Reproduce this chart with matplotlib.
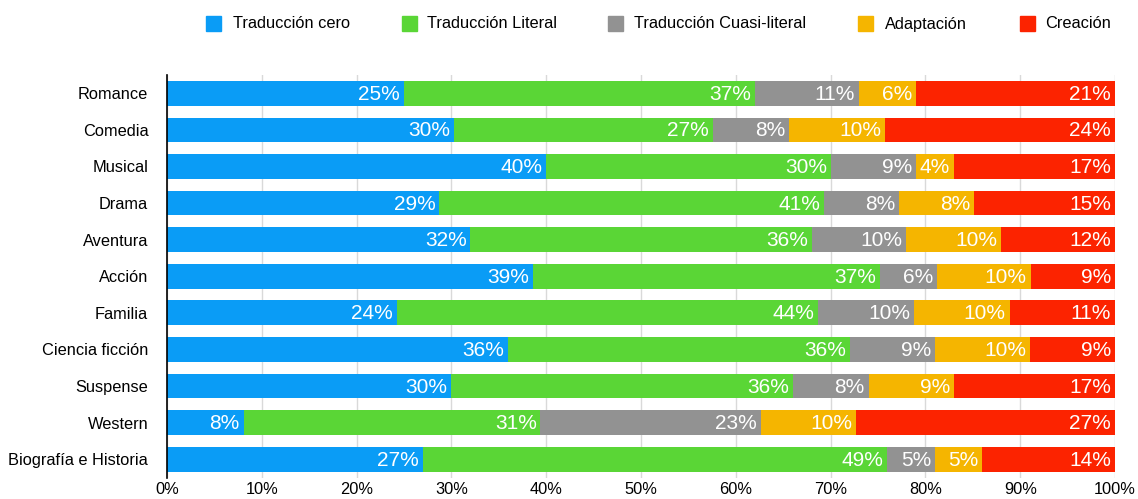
import numpy as np
import matplotlib
matplotlib.use("Agg")
import matplotlib.pyplot as plt
from matplotlib.patches import Rectangle

plt.rcParams['font.family'] = ['Liberation Sans', 'DejaVu Sans']

generos = ['Romance', 'Comedia', 'Musical', 'Drama', 'Aventura', 'Acción',
           'Familia', 'Ciencia ficción', 'Suspense', 'Western',
           'Biografía e Historia']

series = ['Traducción cero', 'Traducción Literal', 'Traducción Cuasi-literal',
          'Adaptación', 'Creación']

trad_cero = [25, 30, 40, 29, 32, 39, 24, 36, 30, 8, 27]
trad_literal = [37, 27, 30, 41, 36, 37, 44, 36, 36, 31, 49]
trad_cuasi = [11, 8, 9, 8, 10, 6, 10, 9, 8, 23, 5]
adaptacion = [6, 10, 4, 8, 10, 10, 10, 10, 9, 10, 5]
creacion = [21, 24, 17, 15, 12, 9, 11, 9, 17, 27, 14]

colores = ['#0A9CF6', '#5AD636', '#929292', '#F5B500', '#FC2300']

datos = np.array([trad_cero, trad_literal, trad_cuasi, adaptacion, creacion], dtype=float)
# 100% stacked: each row is scaled to its own total
anchos = datos / datos.sum(axis=0) * 100

fig = plt.figure(figsize=(11.38, 4.99), dpi=100)
ax = fig.add_axes([167 / 1138, 1 - 477.5 / 499, (1115 - 167) / 1138, 402.5 / 499])

y = np.arange(len(generos))
izq = np.zeros(len(generos))
for i in range(len(series)):
    ax.barh(y, anchos[i], left=izq, height=0.677, color=colores[i], zorder=3)
    for j in range(len(generos)):
        fin = izq[j] + anchos[i][j]
        ax.text(fin - 0.4, y[j] + 0.03, f'{int(datos[i][j])}%', ha='right', va='center',
                color='white', fontsize=15, zorder=4)
    izq += anchos[i]

ax.set_xlim(0, 100)
ax.set_ylim(len(generos) - 0.5, -0.5)
ax.set_yticks(y)
ax.set_yticklabels(generos, fontsize=11.8)
ax.set_xticks(np.arange(0, 101, 10))
ax.set_xticklabels([f'{v}%' for v in range(0, 101, 10)], fontsize=11.8)
ax.tick_params(axis='x', length=0, pad=3)
ax.tick_params(axis='y', length=0, pad=13.5)
ax.grid(axis='x', color='#d9d9d9', linewidth=1, zorder=0)
for s in ['top', 'right', 'bottom']:
    ax.spines[s].set_visible(False)
ax.spines['left'].set_color('black')
ax.spines['left'].set_linewidth(1.2)
ax.spines['left'].set_zorder(5)

# legend row along the top
cuadros = [206, 402, 608, 858, 1020]
textos_x = [233, 427, 634, 885, 1045]
for xc, xt, nombre, c in zip(cuadros, textos_x, series, colores):
    fig.patches.append(Rectangle((xc / 1138, 1 - 31 / 499), 15 / 1138, 15 / 499,
                                 transform=fig.transFigure, color=c))
    fig.text(xt / 1138, 1 - 28.5 / 499, nombre, ha='left', va='baseline',
             fontsize=11.8)

fig.savefig('out.png', dpi=100)
